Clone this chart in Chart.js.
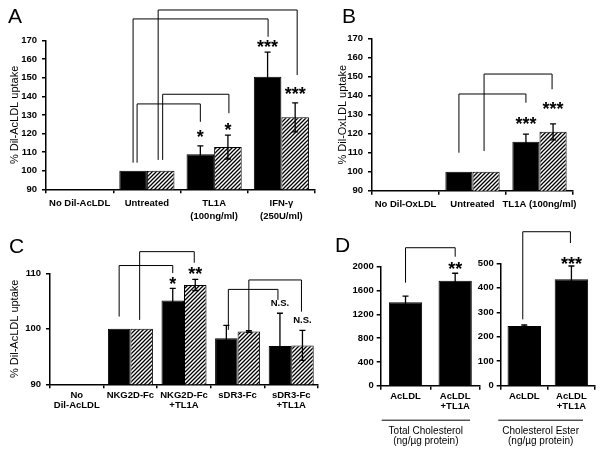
<!DOCTYPE html>
<html>
<head>
<meta charset="utf-8">
<script src="https://cdn.jsdelivr.net/npm/chart.js@4.4.0/dist/chart.umd.min.js"></script>
<style>
  html, body { margin: 0; padding: 0; background: #fff; }
  #fig { position: relative; width: 601px; height: 450px; overflow: hidden; }
  #fig canvas { position: absolute; }
</style>
</head>
<body>
<div id="fig">
  <canvas id="chartA" width="330" height="225" style="left:0;top:0"></canvas>
  <canvas id="chartB" width="271" height="225" style="left:330px;top:0"></canvas>
  <canvas id="chartC" width="330" height="225" style="left:0;top:225px"></canvas>
  <canvas id="chartD1" width="155" height="225" style="left:330px;top:225px"></canvas>
  <canvas id="chartD2" width="136" height="225" style="left:465px;top:225px"></canvas>
</div>
<script>
// ---- panel A
var catsA = ["No Dil-AcLDL", "Untreated", ["TL1A", "(100ng/ml)"], ["IFN-\u03b3", "(250U/ml)"]];
var blackA = [null, 100, 108.8, 150.5];
var hatchA = [null, 100, 112.7, 128.7];
var errBlackA = [0, 0, 4.5, 13.2];
var errHatchA = [0, 0, 6.4, 7.8];
var yTicksA = [90, 100, 110, 120, 130, 140, 150, 160, 170];

// ---- panel B
var catsB = ["No Dil-OxLDL", "Untreated", "TL1A (100ng/ml)"];
var blackB = [null, 100, 115.8];
var hatchB = [null, 100, 121];
var errBlackB = [0, 0, 4];
var errHatchB = [0, 0, 4.2];
var yTicksB = [90, 100, 110, 120, 130, 140, 150, 160, 170];

// ---- panel C
var catsC = [["No", "Dil-AcLDL"], "NKG2D-Fc", ["NKG2D-Fc", "+TL1A"], "sDR3-Fc", ["sDR3-Fc", "+TL1A"]];
var blackC = [null, 100, 105.1, 98.3, 96.9];
var hatchC = [null, 100, 107.9, 99.5, 97.0];
var errBlackC = [0, 0, 2.2, 2.3, 5.9];
var errHatchC = [0, 0, 1.0, 0.15, 2.7];
var yTicksC = [90, 100, 110];

// ---- panel D
var catsD = ["AcLDL", ["AcLDL", "+TL1A"]];
var totalChol = [1402, 1765];
var errTotalChol = [105, 125];
var yTicksD1 = [0, 400, 800, 1200, 1600, 2000];
var cholEster = [244, 435];
var errCholEster = [4, 54];
var yTicksD2 = [0, 100, 200, 300, 400, 500];

// significance brackets: [category, dataset, nudge], values in axis units
var bracketsA = [
  { from: [1, 1, -2.5], to: [3, 1, 2], lo: 105.8, hi: 186.4, end: 151.4 },
  { from: [1, 0, 0], to: [3, 0, 0.5], lo: 104.3, hi: 181.6, end: 172 },
  { from: [1, 0, 4], to: [2, 0, 0], lo: 104.3, hi: 135.9, end: 126.3 },
  { from: [1, 1, 2], to: [2, 1, 1], lo: 105.8, hi: 141.1, end: 130.9 }
];
var starsA = [
  { at: [2, 0], y: 120.3, text: "*" },
  { at: [2, 1], y: 124, text: "*" },
  { at: [3, 0], y: 168.8, text: "***" },
  { at: [3, 1], y: 143.4, text: "***" }
];
var bracketsB = [
  { from: [1, 0, 0], to: [2, 0, 0], lo: 110, hi: 140.9, end: 136.3 },
  { from: [1, 1, -2], to: [2, 1, -1], lo: 110.9, hi: 151.4, end: 143.4 }
];
var starsB = [
  { at: [2, 0], y: 127.2, text: "***" },
  { at: [2, 1], y: 135.1, text: "***" }
];
var bracketsC = [
  { from: [1, 0, 0], to: [2, 0, 0], lo: 102.2, hi: 111.4, end: 110.05 },
  { from: [1, 1, -2], to: [2, 1, -1], lo: 101.6, hi: 113.9, end: 111.9 },
  { from: [3, 0, 2], to: [4, 0, -2], lo: 99.8, hi: 107.1, end: 105.2 },
  { from: [3, 1, 0], to: [4, 1, -1], lo: 99.5, hi: 108.8, end: 103.1 }
];
var starsC = [
  { at: [2, 0], y: 108.8, text: "*" },
  { at: [2, 1], y: 110.6, text: "**" },
  { at: [4, 0], y: 104.5, text: "N.S.", small: true },
  { at: [4, 1], y: 101.5, text: "N.S.", small: true }
];
var bracketsD1 = [{ from: [0, 0, 0], to: [1, 0, 0], lo: 1731, hi: 2319, end: 2168 }];
var starsD1 = [{ at: [1, 0], y: 2029, text: "**" }];
var bracketsD2 = [{ from: [0, 0, -1.5], to: [1, 0, -1], lo: 271, hi: 629, end: 583 }];
var starsD2 = [{ at: [1, 0], y: 513, text: "***" }];

var FONT = "'Liberation Sans', Arial, sans-serif";

function makeHatch(ctx) {
  var c = document.createElement("canvas");
  c.width = 4;
  c.height = 4;
  var g = c.getContext("2d");
  g.fillStyle = "#fff";
  g.fillRect(0, 0, 4, 4);
  g.strokeStyle = "#000";
  g.lineWidth = 1.3;
  g.beginPath();
  g.moveTo(0, 4); g.lineTo(4, 0);
  g.moveTo(-1, 1); g.lineTo(1, -1);
  g.moveTo(3, 5); g.lineTo(5, 3);
  g.stroke();
  return ctx.createPattern(c, "repeat");
}

var marksPlugin = {
  id: "marks",
  afterDatasetsDraw: function (chart, args, opts) {
    var ctx = chart.ctx;
    var ys = chart.scales.y;
    var area = chart.chartArea;
    function barX(j, di) { return chart.getDatasetMeta(di).data[j].x; }
    ctx.save();
    ctx.strokeStyle = "#000";

    // error bars
    (opts.errors || []).forEach(function (errs, di) {
      var vals = chart.data.datasets[di].data;
      errs.forEach(function (e, j) {
        if (!e || vals[j] == null) return;
        var x = barX(j, di);
        var yt = ys.getPixelForValue(vals[j] + e);
        var yb = ys.getPixelForValue(vals[j] - e);
        ctx.lineWidth = 1.3;
        ctx.beginPath();
        ctx.moveTo(x, yb); ctx.lineTo(x, yt);
        ctx.moveTo(x - 3, yt); ctx.lineTo(x + 3, yt);
        ctx.moveTo(x - 3, yb); ctx.lineTo(x + 3, yb);
        ctx.stroke();
      });
    });

    // brackets
    ctx.lineWidth = 1;
    (opts.brackets || []).forEach(function (b) {
      var x0 = barX(b.from[0], b.from[1]) + b.from[2];
      var x1 = barX(b.to[0], b.to[1]) + b.to[2];
      ctx.beginPath();
      ctx.moveTo(x0, ys.getPixelForValue(b.lo));
      ctx.lineTo(x0, ys.getPixelForValue(b.hi));
      ctx.lineTo(x1, ys.getPixelForValue(b.hi));
      ctx.lineTo(x1, ys.getPixelForValue(b.end));
      ctx.stroke();
    });

    // stars / labels
    ctx.fillStyle = "#000";
    ctx.textAlign = "center";
    (opts.stars || []).forEach(function (s) {
      var x = barX(s.at[0], s.at[1]);
      var y = ys.getPixelForValue(s.y);
      if (s.small) {
        ctx.font = "bold 9.5px " + FONT;
        ctx.textBaseline = "middle";
        ctx.fillText(s.text, x, y);
      } else {
        ctx.font = "bold 18px " + FONT;
        ctx.textBaseline = "alphabetic";
        ctx.fillText(s.text, x, y + 10);
      }
    });

    // panel letter
    if (opts.letter) {
      ctx.font = "21px " + FONT;
      ctx.textAlign = "left";
      ctx.textBaseline = "alphabetic";
      ctx.fillText(opts.letter.text, opts.letter.x, opts.letter.y);
    }

    // group label under the axis (panel D)
    if (opts.group) {
      var gx0 = area.left + opts.group.x0;
      var gx1 = area.right - opts.group.x1;
      ctx.lineWidth = 1;
      ctx.beginPath();
      ctx.moveTo(gx0, area.bottom + 34.5);
      ctx.lineTo(gx1, area.bottom + 34.5);
      ctx.stroke();
      ctx.font = "10px " + FONT;
      ctx.textAlign = "center";
      ctx.textBaseline = "middle";
      opts.group.lines.forEach(function (t, i) {
        ctx.fillText(t, (gx0 + gx1) / 2, area.bottom + 46 + i * 10);
      });
    }
    ctx.restore();
  }
};

function buildChart(id, cfg) {
  var canvas = document.getElementById(id);
  var hatch = makeHatch(canvas.getContext("2d"));
  var datasets = [
    {
      data: cfg.black,
      backgroundColor: "#000",
      borderColor: "#000",
      borderWidth: 1,
      categoryPercentage: cfg.catPct,
      barPercentage: 1
    }
  ];
  if (cfg.hatch) {
    datasets.push({
      data: cfg.hatch,
      backgroundColor: hatch,
      borderColor: "#000",
      borderWidth: 1,
      categoryPercentage: cfg.catPct,
      barPercentage: 1
    });
  }
  var yTicks = cfg.yTicks;
  return new Chart(canvas, {
    type: "bar",
    data: { labels: cfg.labels, datasets: datasets },
    plugins: [marksPlugin],
    options: {
      responsive: false,
      animation: false,
      events: [],
      layout: { padding: { left: 0, top: cfg.top, right: cfg.right, bottom: 0 } },
      plugins: {
        legend: { display: false },
        tooltip: { enabled: false },
        marks: {
          errors: cfg.errors,
          brackets: cfg.brackets,
          stars: cfg.stars,
          letter: cfg.letter,
          group: cfg.group
        }
      },
      scales: {
        x: {
          grid: { display: true, drawOnChartArea: false, tickLength: 4, color: "#000", lineWidth: 1.5 },
          border: { display: true, color: "#000", width: 1.5 },
          ticks: {
            color: "#000",
            autoSkip: false,
            maxRotation: 0,
            padding: cfg.xPad,
            font: { family: FONT, size: 9.5, weight: "bold", lineHeight: cfg.lineH }
          },
          afterFit: function (s) { s.height = cfg.xHeight; }
        },
        y: {
          min: yTicks[0],
          max: yTicks[yTicks.length - 1],
          afterBuildTicks: function (s) {
            s.ticks = yTicks.map(function (v) { return { value: v }; });
          },
          grid: { display: true, drawOnChartArea: false, tickLength: 4, color: "#000", lineWidth: 1.5 },
          border: { display: true, color: "#000", width: 1.5 },
          ticks: {
            color: "#000",
            padding: cfg.yPad,
            font: { family: FONT, size: 9.5, weight: "bold" },
            callback: function (v) { return String(v); }
          },
          title: {
            display: !!cfg.yTitle,
            text: cfg.yTitle || "",
            color: "#000",
            font: { family: FONT, size: 11 },
            padding: { top: cfg.titlePad, bottom: 0 }
          },
          afterFit: function (s) { s.width = cfg.yWidth; }
        }
      }
    }
  });
}

buildChart("chartA", {
  labels: catsA, black: blackA, hatch: hatchA, errors: [errBlackA, errHatchA],
  yTicks: yTicksA, brackets: bracketsA, stars: starsA,
  catPct: 0.82, top: 40.5, right: 15, yWidth: 46, xHeight: 35.7,
  xPad: 3, yPad: 5, lineH: 1.4, yTitle: "% Dil-AcLDL uptake", titlePad: 8.4,
  letter: { text: "A", x: 8, y: 23 }
});

buildChart("chartB", {
  labels: catsB, black: blackB, hatch: hatchB, errors: [errBlackB, errHatchB],
  yTicks: yTicksB, brackets: bracketsB, stars: starsB,
  catPct: 0.81, top: 38.7, right: 28, yWidth: 42, xHeight: 34.3,
  xPad: 3, yPad: 5, lineH: 1.4, yTitle: "% Dil-OxLDL uptake", titlePad: 6.4,
  letter: { text: "B", x: 12, y: 23 }
});

buildChart("chartC", {
  labels: catsC, black: blackC, hatch: hatchC, errors: [errBlackC, errHatchC],
  yTicks: yTicksC, brackets: bracketsC, stars: starsC,
  catPct: 0.84, top: 48.3, right: 12, yWidth: 50, xHeight: 65.7,
  xPad: 2, yPad: 5, lineH: 1.05, yTitle: "% Dil-AcLDL uptake", titlePad: 8.4,
  letter: { text: "C", x: 9, y: 28 }
});

buildChart("chartD1", {
  labels: catsD, black: totalChol, errors: [errTotalChol],
  yTicks: yTicksD1, brackets: bracketsD1, stars: starsD1,
  catPct: 0.67, top: 41.7, right: 5, yWidth: 50.7, xHeight: 64.3,
  xPad: 2, yPad: 3, lineH: 1.05, titlePad: 0,
  letter: { text: "D", x: 5, y: 27 },
  group: { x0: 1, x1: 10, lines: ["Total Cholesterol", "(ng/\u00b5g protein)"] }
});

buildChart("chartD2", {
  labels: catsD, black: cholEster, errors: [errCholEster],
  yTicks: yTicksD2, brackets: bracketsD2, stars: starsD2,
  catPct: 0.71, top: 38.3, right: 6, yWidth: 35.7, xHeight: 64.3,
  xPad: 2, yPad: 3, lineH: 1.05, titlePad: 0,
  group: { x0: -2.4, x1: 12, lines: ["Cholesterol Ester", "(ng/\u00b5g protein)"] }
});
</script>
</body>
</html>
